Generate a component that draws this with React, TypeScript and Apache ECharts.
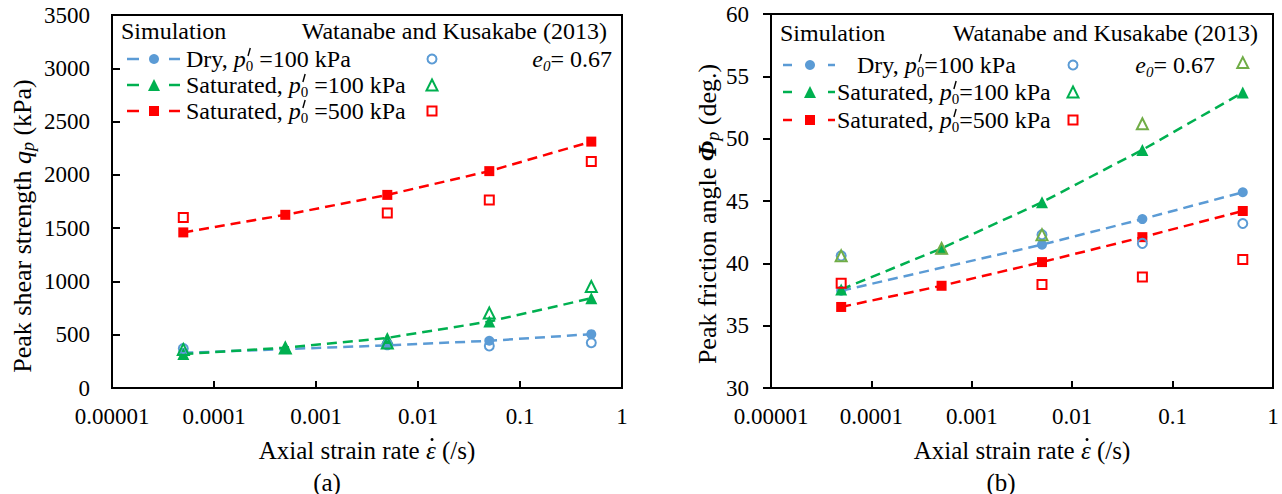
import React, { useEffect, useRef } from 'react';
import * as echarts from 'echarts';

// Axial strain rates shared by both panels (1/s)
const strainRates = [0.00005, 0.0005, 0.005, 0.05, 0.5];
const xTickLabels = ['0.00001', '0.0001', '0.001', '0.01', '0.1', '1'];

// Panel (a): peak shear strength q_p (kPa)
const qDrySim = [330, null, 400, 443, 505];
const qSat100Sim = [318, 378, 470, 624, 842];
const qSat500Sim = [1460, 1625, 1812, 2035, 2312];
const qDryExp = [370, null, 410, 395, 425];
const qSat100Exp = [362, 376, 422, 703, 952];
const qSat500Exp = [1600, null, 1641, 1765, 2125];

// Panel (b): peak friction angle Phi_p (deg.)
const phiDrySim = [37.8, null, 41.5, 43.55, 45.7];
const phiSat100Sim = [37.9, 41.2, 44.9, 49.1, 53.7];
const phiSat500Sim = [36.5, 38.2, 40.1, 42.1, 44.2];
const phiDryExp = [40.6, null, 42.3, 41.6, 43.2];
const phiSat100Exp = [40.6, 41.2, 42.3, 51.2, 56.1];
const phiSat500Exp = [38.4, null, 38.3, 38.9, 40.3];

// Axis ranges
const qRange = [0, 3500, 500];
const phiRange = [30, 60, 5];

// Legend texts
const caseNames = ['Dry, ', 'Saturated, ', 'Saturated, '];
const casePressures = ['100', '100', '500'];
const simHeader = 'Simulation';
const expHeader = 'Watanabe and Kusakabe (2013)';
const voidRatio = '0.67';

const BLUE = '#5B9BD5';
const GREEN = '#00B050';
const OLIVE = '#70AD47';
const RED = '#FF0000';
const SERIF = '"Liberation Serif", "Times New Roman", serif';

const simColors = [BLUE, GREEN, RED];
const symbols = ['circle', 'triangle', 'rect'];
const symbolSizes = [10, 12, 10];

type Seg = {
  t: string; size?: number; italic?: boolean; bold?: boolean; dy?: number;
  dot?: boolean; prime?: boolean;
};

let measureCtx: CanvasRenderingContext2D | null = null;
function fontOf(size: number, italic?: boolean, bold?: boolean) {
  return `${italic ? 'italic ' : ''}${bold ? 'bold ' : ''}${size}px ${SERIF}`;
}
function textWidth(t: string, font: string) {
  if (!measureCtx) measureCtx = document.createElement('canvas').getContext('2d');
  measureCtx!.font = font;
  return measureCtx!.measureText(t).width;
}

// Lays out a line of mixed-style text (italics, subscripts, accents) left to right
function richLine(segs: Seg[], base: number, anchor: 'left' | 'center' | 'right') {
  const items: any[] = [];
  let x = 0;
  for (const s of segs) {
    const size = s.size ?? base;
    const font = fontOf(size, s.italic, s.bold);
    const w = textWidth(s.t, font);
    const y = s.dy ?? 0;
    items.push({
      type: 'text', x, y, z: 100,
      style: { text: s.t, font, fill: '#000', align: 'left', verticalAlign: 'middle', textAlign: 'left', textVerticalAlign: 'middle' },
    });
    if (s.dot) {
      items.push({ type: 'circle', z: 100, shape: { cx: x + w * 0.62, cy: y - size * 0.42, r: 1.5 }, style: { fill: '#000' } });
    }
    if (s.prime) {
      // prime mark drawn above the subscript
      items.push({
        type: 'line', z: 100,
        shape: { x1: x + w * 0.3, y1: -3, x2: x + w * 0.6, y2: -11 },
        style: { stroke: '#000', lineWidth: 1.4 },
      });
    }
    x += w;
  }
  const shift = anchor === 'left' ? 0 : anchor === 'center' ? -x / 2 : -x;
  items.forEach((it) => {
    if (it.type === 'circle') it.shape.cx += shift;
    else if (it.type === 'line') { it.shape.x1 += shift; it.shape.x2 += shift; }
    else it.x += shift;
  });
  return items;
}

function placed(segs: Seg[], base: number, anchor: 'left' | 'center' | 'right', x: number, y: number, rotation = 0) {
  return { type: 'group', x, y, rotation, z: 100, children: richLine(segs, base, anchor) };
}

function marker(kind: string, cx: number, cy: number, color: string, filled: boolean, size: number) {
  const style = filled ? { fill: color } : { fill: 'none', stroke: color, lineWidth: 2 };
  const h = size / 2;
  if (kind === 'circle') return { type: 'circle', z: 100, shape: { cx, cy, r: h }, style };
  if (kind === 'triangle') {
    return { type: 'polygon', z: 100, shape: { points: [[cx, cy - h], [cx + h, cy + h], [cx - h, cy + h]] }, style };
  }
  return { type: 'rect', z: 100, shape: { x: cx - h, y: cy - h, width: size, height: size }, style };
}

// "p'0": italic p, prime stacked over the subscript zero
function pressureSegs(i: number, spaced: boolean): Seg[] {
  return [
    { t: caseNames[i] },
    { t: 'p', italic: true },
    { t: '0', size: 15, dy: 6.5, prime: true },
    { t: `${spaced ? ' ' : ''}=${casePressures[i]} kPa` },
  ];
}

type LegendLayout = {
  headerY: number; simX: number; expRight: number; rows: number[];
  dash: number[]; markerX: number; textX: number[]; expX: number; e0Right: number;
  spaced: boolean; expColors: string[];
};

function legendGraphics(L: LegendLayout) {
  const out: any[] = [];
  const fs = 24;
  out.push(placed([{ t: simHeader }], fs, 'left', L.simX, L.headerY));
  out.push(placed([{ t: expHeader }], fs, 'right', L.expRight, L.headerY));
  L.rows.forEach((y, i) => {
    const c = simColors[i];
    out.push({ type: 'line', z: 100, shape: { x1: L.dash[0], y1: y, x2: L.dash[1], y2: y }, style: { stroke: c, lineWidth: 2.5 } });
    out.push({ type: 'line', z: 100, shape: { x1: L.dash[2], y1: y, x2: L.dash[3], y2: y }, style: { stroke: c, lineWidth: 2.5 } });
    out.push(marker(symbols[i], L.markerX, y, c, true, symbolSizes[i]));
    out.push(placed(pressureSegs(i, L.spaced), fs, 'left', L.textX[i], y));
    out.push(marker(symbols[i], L.expX, y, L.expColors[i], false, symbolSizes[i] - 1));
  });
  out.push(placed([
    { t: 'e', italic: true },
    { t: '0', italic: true, size: 15, dy: 6.5 },
    { t: '= ' + voidRatio },
  ], fs, 'right', L.e0Right, L.rows[0]));
  return out;
}

function pairs(vals: (number | null)[]) {
  return strainRates.map((x, i) => (vals[i] == null ? null : [x, vals[i]])).filter(Boolean) as number[][];
}

function simSeries(idx: number, values: (number | null)[][]) {
  return values.map((v, i) => ({
    type: 'line',
    xAxisIndex: idx, yAxisIndex: idx,
    data: pairs(v),
    symbol: symbols[i], symbolSize: symbolSizes[i], showSymbol: true,
    itemStyle: { color: simColors[i] },
    lineStyle: { color: simColors[i], width: 2.5, type: [10, 6] },
    z: 3,
  }));
}

function expSeries(idx: number, values: (number | null)[][], colors: string[]) {
  return values.map((v, i) => ({
    type: 'scatter',
    xAxisIndex: idx, yAxisIndex: idx,
    data: pairs(v),
    symbol: symbols[i], symbolSize: symbolSizes[i] - 1,
    itemStyle: { color: 'rgba(255,255,255,0)', borderColor: colors[i], borderWidth: 2, opacity: 1 },
    z: 4,
  }));
}

function xAxis(idx: number) {
  return {
    type: 'log', logBase: 10, gridIndex: idx, min: 0.00001, max: 1, splitNumber: 5,
    axisLine: { show: true, lineStyle: { color: '#000', width: 2 } },
    axisTick: { show: true, inside: true, length: 7, lineStyle: { color: '#000', width: 2 } },
    splitLine: { show: false },
    axisLabel: {
      fontSize: 23, fontFamily: SERIF, color: '#000', margin: 17,
      formatter: (v: number) => xTickLabels[Math.round(Math.log10(v)) + 5] ?? '',
    },
  };
}

function yAxis(idx: number, range: number[], inside: boolean) {
  return {
    type: 'value', gridIndex: idx, min: range[0], max: range[1], interval: range[2],
    axisLine: { show: true, lineStyle: { color: '#000', width: 2 } },
    axisTick: { show: true, inside, length: 8, lineStyle: { color: '#000', width: 2 } },
    splitLine: { show: false },
    axisLabel: { fontSize: 23, fontFamily: SERIF, color: '#000', margin: 22, formatter: (v: number) => String(v) },
  };
}

function buildOption() {
  const strainTitle: Seg[] = [{ t: 'Axial strain rate ' }, { t: '\u03b5', italic: true, dot: true }, { t: ' (/s)' }];
  const graphic: any[] = [
    placed([{ t: 'Peak shear strength ' }, { t: 'q', italic: true }, { t: 'p', italic: true, size: 18, dy: 6 }, { t: ' (kPa)' }],
      26, 'center', 22, 226, Math.PI / 2),
    placed([{ t: 'Peak friction angle ' }, { t: '\u03a6', italic: true, bold: true }, { t: 'p', italic: true, size: 18, dy: 6 }, { t: ' (deg.)' }],
      26, 'center', 707, 214, Math.PI / 2),
    placed(strainTitle, 25, 'center', 367, 450),
    placed(strainTitle, 25, 'center', 1022, 450),
    placed([{ t: '(a)' }], 25, 'center', 327, 482),
    placed([{ t: '(b)' }], 25, 'center', 1001, 482),
    ...legendGraphics({
      headerY: 31, simX: 121, expRight: 607, rows: [59, 85, 111],
      dash: [127, 139, 169, 180], markerX: 154, textX: [186, 186, 186], expX: 432, e0Right: 612,
      spaced: true, expColors: [BLUE, GREEN, RED],
    }),
    ...legendGraphics({
      headerY: 33, simX: 780, expRight: 1258, rows: [65, 92, 120],
      dash: [783, 792, 828, 835], markerX: 810, textX: [857, 837, 837], expX: 1073, e0Right: 1215,
      spaced: false, expColors: [BLUE, GREEN, RED],
    }),
  ];

  return {
    animation: false,
    backgroundColor: '#fff',
    textStyle: { fontFamily: SERIF },
    grid: [
      { left: 112, top: 15, width: 510, height: 373, show: true, borderColor: '#000', borderWidth: 2, backgroundColor: 'transparent' },
      { left: 771, top: 14, width: 502, height: 374, show: true, borderColor: '#000', borderWidth: 2, backgroundColor: 'transparent' },
    ],
    xAxis: [xAxis(0), xAxis(1)],
    yAxis: [yAxis(0, qRange, true), yAxis(1, phiRange, false)],
    series: [
      ...simSeries(0, [qDrySim, qSat100Sim, qSat500Sim]),
      ...expSeries(0, [qDryExp, qSat100Exp, qSat500Exp], [BLUE, GREEN, RED]),
      ...simSeries(1, [phiDrySim, phiSat100Sim, phiSat500Sim]),
      ...expSeries(1, [phiDryExp, phiSat100Exp, phiSat500Exp], [BLUE, OLIVE, RED]),
    ],
    graphic,
  };
}

export default function App() {
  const ref = useRef<HTMLDivElement>(null);
  useEffect(() => {
    const chart = echarts.init(ref.current!, null, { renderer: 'svg' });
    chart.setOption(buildOption() as any);
    return () => chart.dispose();
  }, []);
  return (
    <div
      ref={ref}
      style={{ position: 'absolute', left: 0, top: 0, width: 1282, height: 494, background: '#fff' }}
    />
  );
}
